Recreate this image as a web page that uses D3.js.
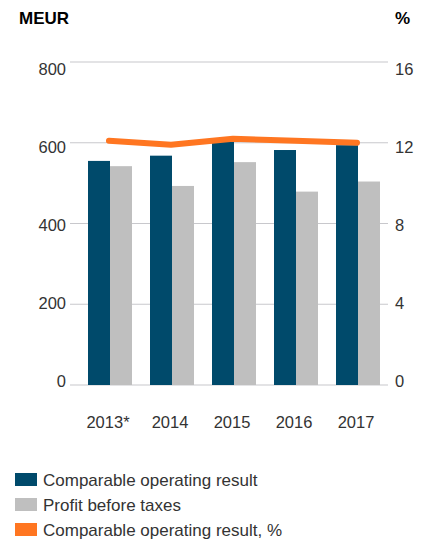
<!DOCTYPE html>
<html>
<head>
<meta charset="utf-8">
<script src="https://cdn.jsdelivr.net/npm/d3@7"></script>
<style>
  html, body { margin: 0; padding: 0; background: #fff; }
  svg { display: block; font-family: "Liberation Sans", Arial, Helvetica, sans-serif; }
</style>
</head>
<body>
<svg id="chart" width="423" height="544"></svg>
<script>
// Years on the category axis
const years = ["2013*", "2014", "2015", "2016", "2017"];
// MEUR values (left axis)
const comparableOperatingResult = [555, 568, 611, 582, 594];
const profitBeforeTaxes = [542, 493, 552, 479, 504];
// Percent values (right axis)
const comparableOperatingResultPct = [12.1, 11.9, 12.2, 12.1, 12.0];
// Axis ticks
const leftTicks = [0, 200, 400, 600, 800];
const rightTicks = [0, 4, 8, 12, 16];

const seriesNames = ["Comparable operating result", "Profit before taxes", "Comparable operating result, %"];
const colors = { dark: "#004a6b", grey: "#bfbfbf", orange: "#ff7621", grid: "#c8c8cc", text: "#333333" };

const svg = d3.select("#chart");

const plotLeft = 70, plotRight = 388, plotTop = 62, plotBottom = 385;

const yLeft = d3.scaleLinear().domain([0, 800]).range([plotBottom, plotTop]);
const yRight = d3.scaleLinear().domain([0, 16]).range([plotBottom, plotTop]);
// Tick labels sit on a slightly tighter scale than the gridlines
const yLabelLeft = d3.scaleLinear().domain([0, 800]).range([plotBottom - 4, plotTop + 7]);
const yLabelRight = d3.scaleLinear().domain([0, 16]).range([plotBottom - 4, plotTop + 7]);
const x = d3.scaleBand().domain(years).range([79, 389]).padding(0);
const xInner = d3.scaleBand().domain(["cor", "pbt"]).range([0, 44]).padding(0);
const groupStart = d => x(d) + x.bandwidth() / 2 - 22;

// Gridlines
svg.append("g")
  .selectAll("line")
  .data(leftTicks)
  .join("line")
  .attr("x1", plotLeft).attr("x2", plotRight)
  .attr("y1", d => yLeft(d)).attr("y2", d => yLeft(d))
  .attr("stroke", colors.grid).attr("stroke-width", 1.2);

// Left axis labels
const leftAxis = d3.axisLeft(yLabelLeft).tickValues(leftTicks).tickSize(0).tickPadding(4);
svg.append("g").attr("transform", `translate(${plotLeft},0)`).call(leftAxis)
  .call(g => g.select(".domain").remove())
  .call(g => g.selectAll("text").attr("font-size", 16.5).attr("fill", colors.text)
    .attr("font-family", "Liberation Sans, Arial, sans-serif"));

// Right axis labels
const rightAxis = d3.axisRight(yLabelRight).tickValues(rightTicks).tickSize(0).tickPadding(7);
svg.append("g").attr("transform", `translate(${plotRight},0)`).call(rightAxis)
  .call(g => g.select(".domain").remove())
  .call(g => g.selectAll("text").attr("font-size", 16.5).attr("fill", colors.text)
    .attr("font-family", "Liberation Sans, Arial, sans-serif"));

// Bars
const barData = years.map((y, i) => ({ year: y, cor: comparableOperatingResult[i], pbt: profitBeforeTaxes[i] }));
const groups = svg.append("g").selectAll("g").data(barData).join("g")
  .attr("transform", d => `translate(${groupStart(d.year)},0)`);
groups.append("rect")
  .attr("x", xInner("cor")).attr("width", xInner.bandwidth())
  .attr("y", d => yLeft(d.cor)).attr("height", d => plotBottom - yLeft(d.cor))
  .attr("fill", colors.dark);
groups.append("rect")
  .attr("x", xInner("pbt")).attr("width", xInner.bandwidth())
  .attr("y", d => yLeft(d.pbt)).attr("height", d => plotBottom - yLeft(d.pbt))
  .attr("fill", colors.grey);

// Percent line
const line = d3.line()
  .x((d, i) => x(years[i]) + x.bandwidth() / 2 - 1)
  .y(d => yRight(d));
svg.append("path")
  .datum(comparableOperatingResultPct)
  .attr("d", line)
  .attr("fill", "none")
  .attr("stroke", colors.orange)
  .attr("stroke-width", 6)
  .attr("stroke-linecap", "round")
  .attr("stroke-linejoin", "round");

// Category axis labels
const xAxis = d3.axisBottom(x).tickSize(0).tickPadding(0);
svg.append("g").attr("transform", `translate(-2,${plotBottom + 43})`).call(xAxis)
  .call(g => g.select(".domain").remove())
  .call(g => g.selectAll("text").attr("font-size", 16.5).attr("fill", colors.text)
    .attr("dy", 0).attr("font-family", "Liberation Sans, Arial, sans-serif"));

// Unit titles
svg.append("text").attr("x", 19).attr("y", 24).text("MEUR")
  .attr("font-size", 17).attr("font-weight", "bold").attr("fill", "#000");
svg.append("text").attr("x", 395).attr("y", 24).text("%")
  .attr("font-size", 17).attr("font-weight", "bold").attr("fill", "#000");

// Legend
const legendColors = [colors.dark, colors.grey, colors.orange];
const legend = svg.append("g").selectAll("g").data(seriesNames).join("g")
  .attr("transform", (d, i) => `translate(15,${473 + i * 25})`);
legend.append("rect").attr("width", 22).attr("height", 13).attr("fill", (d, i) => legendColors[i]);
legend.append("text").attr("x", 28).attr("y", 12.5).text(d => d)
  .attr("font-size", 17).attr("fill", colors.text);
</script>
</body>
</html>
